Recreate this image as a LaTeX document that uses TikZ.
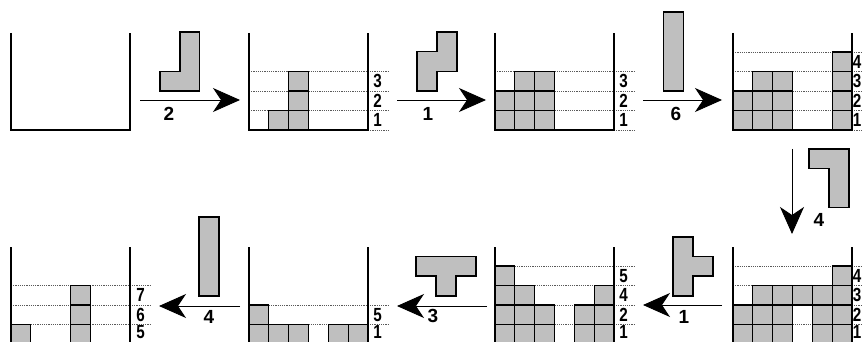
\documentclass[tikz,border=0pt]{standalone}
\usepackage{fontspec}
\setmainfont{Liberation Sans}
\usetikzlibrary{arrows.meta}
\tikzset{
  wall/.style={line width=1.2pt, black},
  blk/.style={draw=black, line width=1.1pt, fill=black!25},
  piece/.style={draw=black, line width=1.1pt, fill=black!25, line join=miter},
  dotline/.style={line width=0.6pt, black!65, dash pattern=on 1.2pt off 1pt},
  conn/.style={line width=0.9pt, -{Stealth[length=27pt,width=24pt,inset=8pt]}},
  rowlbl/.style={font=\fontsize{19}{19}\selectfont\bfseries, inner sep=0pt, xscale=0.8},
  arlbl/.style={font=\fontsize{19}{19}\selectfont\bfseries, inner sep=0pt},
}
% #1 left x, #2 bottom y
\newcommand\tetwell[2]{\draw[wall] ({#1},{#2-97}) -- ({#1},{#2}) -- ({#1+119},{#2}) -- ({#1+119},{#2-97});}
% #1 left, #2 bottom, #3 column (0-based), #4 row (1-based)
\newcommand\tetcell[4]{\draw[blk] ({#1+#3*19.83},{#2-(#4-1)*19.5}) rectangle ++(19.83,-19.5);}
% dotted level line at top of row #3
\newcommand\tetdots[3]{\draw[dotline] ({#1},{#2-#3*19.5}) -- ({#1+139},{#2-#3*19.5});}
\newcommand\tetbase[2]{\draw[dotline] ({#1+119},{#2}) -- ({#1+139},{#2});}
% label: #1 x of label centre, #2 bottom, #3 row, #4 text, #5 name
\newcommand\tetlbl[5]{\node[rowlbl] (#5) at ({#1},{#2-(#3-0.5)*19.5}) {#4};}
\begin{document}
\begin{tikzpicture}[x=1pt,y=-1pt]
\useasboundingbox (0,0) rectangle (862,342);
\clip (0,0) rectangle (862,342);

% ---------- top row ----------
% panel 1
\tetwell{11}{130}

% panel 2
\foreach \r in {1,2,3} {\tetdots{249}{130}{\r}}
\tetbase{249}{130}
\foreach \c/\r in {1/1,2/1,2/2,2/3} {\tetcell{249}{130}{\c}{\r}}
\tetwell{249}{130}
\tetlbl{377.5}{130}{1}{1}{p2a}
\tetlbl{377.5}{130}{2}{2}{p2b}
\tetlbl{377.5}{130}{3}{3}{p2c}

% panel 3
\foreach \r in {1,2,3} {\tetdots{495}{130}{\r}}
\tetbase{495}{130}
\foreach \c/\r in {0/1,1/1,2/1,0/2,1/2,2/2,1/3,2/3} {\tetcell{495}{130}{\c}{\r}}
\tetwell{495}{130}
\tetlbl{623.5}{130}{1}{1}{p3a}
\tetlbl{623.5}{130}{2}{2}{p3b}
\tetlbl{623.5}{130}{3}{3}{p3c}

% panel 4
\foreach \r in {1,2,3,4} {\tetdots{733}{130}{\r}}
\tetbase{733}{130}
\foreach \c/\r in {0/1,1/1,2/1,5/1,0/2,1/2,2/2,5/2,1/3,2/3,5/3,5/4} {\tetcell{733}{130}{\c}{\r}}
\tetwell{733}{130}
\tetlbl{857}{130}{1}{1}{p4a}
\tetlbl{857}{130}{2}{2}{p4b}
\tetlbl{857}{130}{3}{3}{p4c}
\tetlbl{857}{130}{4}{4}{p4d}

% ---------- bottom row ----------
% panel 5 (right)
\foreach \r in {1,2,3,4} {\tetdots{733}{344}{\r}}
\foreach \c/\r in {0/1,1/1,2/1,4/1,5/1,0/2,1/2,2/2,4/2,5/2,1/3,2/3,3/3,4/3,5/3,5/4} {\tetcell{733}{344}{\c}{\r}}
\tetwell{733}{344}
\tetlbl{857}{342}{1}{1}{p5a}
\tetlbl{857}{344}{2}{2}{p5b}
\tetlbl{857}{344}{3}{3}{p5c}
\tetlbl{857}{344}{4}{4}{p5d}

% panel 6
\foreach \r in {1,2,3,4} {\tetdots{495}{344}{\r}}
\foreach \c/\r in {0/1,1/1,2/1,4/1,5/1,0/2,1/2,2/2,4/2,5/2,0/3,1/3,5/3,0/4} {\tetcell{495}{344}{\c}{\r}}
\tetwell{495}{344}
\tetlbl{623.5}{342}{1}{1}{p6a}
\tetlbl{623.5}{344}{2}{2}{p6b}
\tetlbl{623.5}{344}{3}{4}{p6c}
\tetlbl{623.5}{344}{4}{5}{p6d}

% panel 7
\foreach \r in {1,2} {\tetdots{249}{344}{\r}}
\foreach \c/\r in {0/1,1/1,2/1,4/1,5/1,0/2} {\tetcell{249}{344}{\c}{\r}}
\tetwell{249}{344}
\tetlbl{377.5}{342}{1}{1}{p7a}
\tetlbl{377.5}{344}{2}{5}{p7b}

% panel 8 (left)
\foreach \r in {1,2,3} {\tetdots{11}{344}{\r}}
\foreach \c/\r in {0/1,3/1,3/2,3/3} {\tetcell{11}{344}{\c}{\r}}
\tetwell{11}{344}
\tetlbl{140.5}{342}{1}{5}{p8a}
\tetlbl{140.5}{344}{2}{6}{p8b}
\tetlbl{140.5}{344}{3}{7}{p8c}

% ---------- falling pieces ----------
\draw[piece] (180,32) -- (199.8,32) -- (199.8,91) -- (160,91) -- (160,71.5) -- (180,71.5) -- cycle;
\draw[piece] (437,32) -- (457,32) -- (457,71.5) -- (437,71.5) -- (437,91) -- (417,91) -- (417,51.5) -- (437,51.5) -- cycle;
\draw[piece] (663.5,12) rectangle (683.5,91);
\draw[piece] (809,149) -- (849,149) -- (849,207.5) -- (829,207.5) -- (829,168.5) -- (809,168.5) -- cycle;
\draw[piece] (673,237) -- (693,237) -- (693,256.5) -- (713,256.5) -- (713,276) -- (693,276) -- (693,296) -- (673,296) -- cycle;
\draw[piece] (416,256.5) -- (476,256.5) -- (476,276) -- (456,276) -- (456,296) -- (436,296) -- (436,276) -- (416,276) -- cycle;
\draw[piece] (199,217) rectangle (219,296);

% ---------- arrows ----------
\coordinate (a1s) at (140,100);  \coordinate (a1e) at (240,100);
\coordinate (a2s) at (397,100);  \coordinate (a2e) at (486,100);
\coordinate (a3s) at (643,100);  \coordinate (a3e) at (722,100);
\coordinate (a4s) at (792,149);  \coordinate (a4e) at (792,234);
\coordinate (a5s) at (722,305);  \coordinate (a5e) at (643,305);
\coordinate (a6s) at (487,306);  \coordinate (a6e) at (397,306);
\coordinate (a7s) at (240,306);  \coordinate (a7e) at (159,306);
\draw[conn] (a1s) -- (a1e);
\draw[conn] (a2s) -- (a2e);
\draw[conn] (a3s) -- (a3e);
\draw[conn] (a4s) -- (a4e);
\draw[conn] (a5s) -- (a5e);
\draw[conn] (a6s) -- (a6e);
\draw[conn] (a7s) -- (a7e);

\node[arlbl] (l1) at (169,114) {2};
\node[arlbl] (l2) at (428,114) {1};
\node[arlbl] (l3) at (676,114) {6};
\node[arlbl] (l4) at (819,220) {4};
\node[arlbl] (l5) at (684,317) {1};
\node[arlbl] (l6) at (433,316) {3};
\node[arlbl] (l7) at (209,317) {4};
\end{tikzpicture}
\end{document}
